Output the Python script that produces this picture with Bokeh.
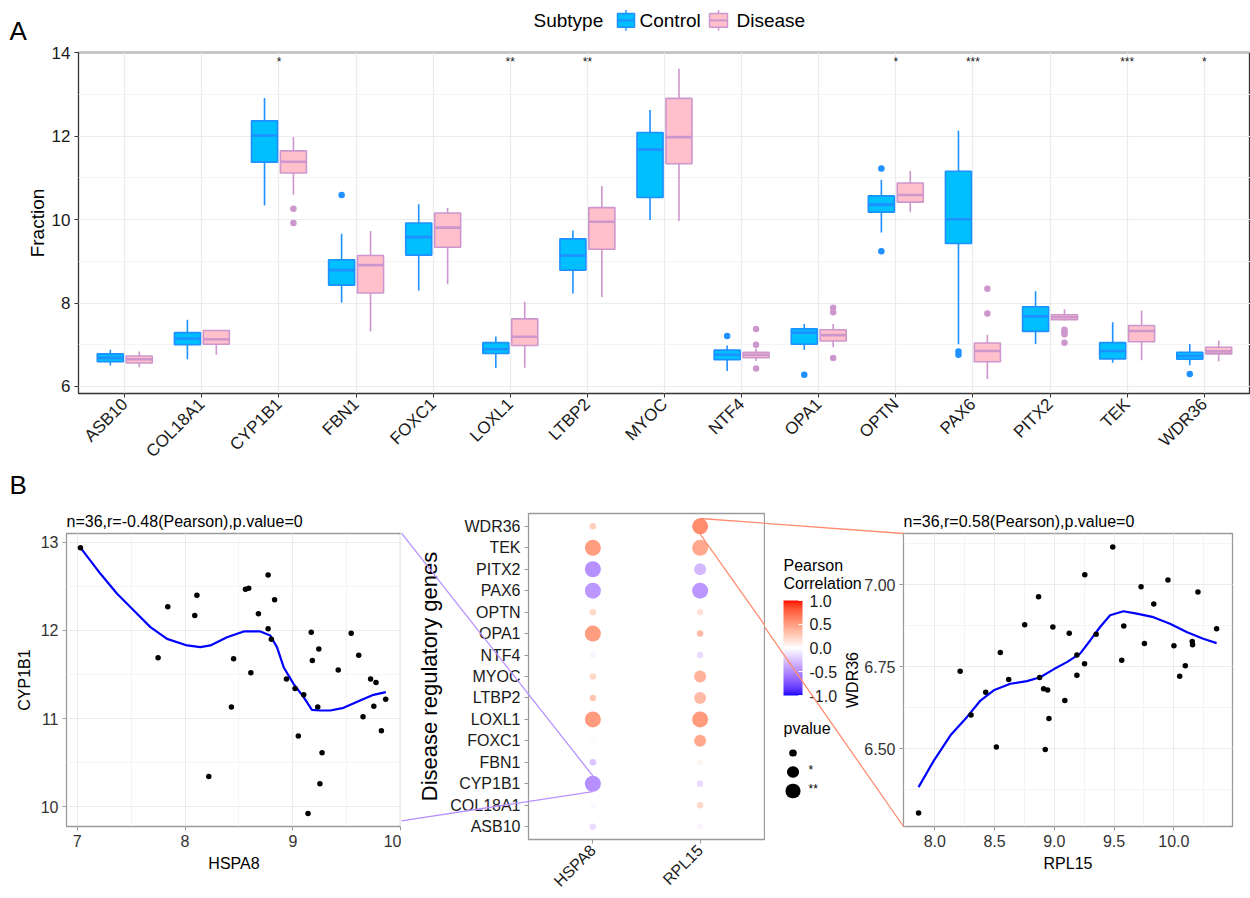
import numpy as np
from bokeh.plotting import figure
from bokeh.layouts import column, row
from bokeh.models import (ColumnDataSource, Range1d, FixedTicker, SingleIntervalTicker,
                          LinearColorMapper, ColorBar, PrintfTickFormatter)
from bokeh.transform import linear_cmap
from bokeh.core.properties import value
from bokeh.embed import file_html
from bokeh.resources import INLINE

FONT = "Liberation Sans"

# ---------------- Panel A data (box plot stats) ----------------
genes = ["ASB10", "COL18A1", "CYP1B1", "FBN1", "FOXC1", "LOXL1", "LTBP2", "MYOC",
         "NTF4", "OPA1", "OPTN", "PAX6", "PITX2", "TEK", "WDR36"]
ctrl_low = [6.50, 6.65, 10.34, 8.01, 8.30, 6.44, 8.23, 9.99, 6.37, 6.88, 9.69, 7.01, 7.02, 6.57, 6.51]
ctrl_q1 = [6.59, 7.00, 11.38, 8.43, 9.15, 6.79, 8.79, 10.53, 6.64, 7.01, 10.18, 9.43, 7.32, 6.66, 6.65]
ctrl_med = [6.685, 7.15, 12.02, 8.79, 9.58, 6.89, 9.14, 11.68, 6.76, 7.29, 10.36, 10.01, 7.68, 6.85, 6.73]
ctrl_q3 = [6.78, 7.29, 12.37, 9.04, 9.92, 7.05, 9.54, 12.09, 6.87, 7.38, 10.57, 11.16, 7.91, 7.05, 6.82]
ctrl_up = [6.88, 7.60, 12.92, 9.66, 10.37, 7.20, 9.74, 12.63, 6.98, 7.50, 10.96, 12.13, 8.28, 7.54, 7.02]
dis_low = [6.46, 6.76, 10.60, 7.32, 8.45, 6.45, 8.14, 9.97, 6.61, 6.94, 10.18, 6.18, 7.58, 6.63, 6.60]
dis_q1 = [6.56, 7.01, 11.12, 8.24, 9.34, 6.98, 9.29, 11.34, 6.69, 7.09, 10.42, 6.59, 7.60, 7.07, 6.78]
dis_med = [6.65, 7.13, 11.39, 8.91, 9.81, 7.19, 9.95, 11.98, 6.76, 7.23, 10.59, 6.85, 7.66, 7.33, 6.84]
dis_q3 = [6.73, 7.34, 11.65, 9.14, 10.16, 7.62, 10.29, 12.91, 6.82, 7.36, 10.88, 7.04, 7.72, 7.46, 6.94]
dis_up = [6.84, 7.36, 11.98, 9.73, 10.28, 8.03, 10.81, 13.62, 6.91, 7.50, 11.17, 7.24, 7.85, 7.82, 7.10]
ctrl_out_gene = ["FBN1", "NTF4", "OPA1", "OPTN", "OPTN", "PAX6", "PAX6", "WDR36"]
ctrl_out_val = [10.59, 7.21, 6.28, 11.23, 9.24, 6.84, 6.76, 6.30]
dis_out_gene = ["CYP1B1", "CYP1B1", "NTF4", "NTF4", "NTF4", "OPA1", "OPA1", "OPA1",
                "PAX6", "PAX6", "PITX2", "PITX2", "PITX2", "PITX2"]
dis_out_val = [10.26, 9.92, 7.38, 7.00, 6.43, 7.89, 7.78, 6.68, 8.34, 7.75, 7.36, 7.30, 7.25, 7.05]
signif = ["", "", "*", "", "", "**", "**", "", "", "", "*", "***", "", "***", "*"]
legend_title = "Subtype"
groups = ["Control", "Disease"]

# ---------------- Panel B data ----------------
hspa8_x = [7.03, 7.75, 7.84, 8.09, 8.11, 8.22, 8.43, 8.45, 8.56, 8.59, 8.61, 8.68, 8.77, 8.77,
           8.80, 8.83, 8.94, 9.02, 9.05, 9.10, 9.14, 9.17, 9.18, 9.23, 9.24, 9.25, 9.27, 9.42,
           9.54, 9.61, 9.65, 9.72, 9.75, 9.77, 9.82, 9.86]
cyp1b1_y = [12.94, 11.69, 12.27, 12.17, 12.40, 10.34, 11.13, 11.68, 12.47, 12.48, 11.52, 12.19,
            12.63, 12.02, 11.90, 12.35, 11.45, 11.34, 10.80, 11.27, 9.92, 11.98, 11.66, 11.13,
            11.79, 10.26, 10.61, 11.55, 11.97, 11.72, 11.02, 11.45, 11.14, 11.41, 10.86, 11.22]
fitL_x = [7.034, 7.216, 7.370, 7.525, 7.679, 7.833, 8.019, 8.142, 8.235, 8.389, 8.543, 8.698,
          8.790, 8.852, 8.914, 9.006, 9.099, 9.176, 9.253, 9.346, 9.469, 9.623, 9.747, 9.861]
fitL_y = [12.936, 12.644, 12.417, 12.227, 12.038, 11.905, 11.830, 11.811, 11.830, 11.924, 11.989,
          11.989, 11.943, 11.811, 11.583, 11.394, 11.242, 11.098, 11.091, 11.091, 11.121, 11.205,
          11.269, 11.299]
titleL = "n=36,r=-0.48(Pearson),p.value=0"

rpl15_x = [7.864, 8.212, 8.303, 8.426, 8.515, 8.548, 8.618, 8.752, 8.868, 8.877, 8.910, 8.924,
           8.944, 8.955, 8.988, 9.088, 9.125, 9.189, 9.189, 9.253, 9.255, 9.350, 9.489, 9.564,
           9.581, 9.726, 9.754, 9.832, 9.951, 10.001, 10.049, 10.096, 10.154, 10.157, 10.202, 10.358]
wdr36_y = [6.304, 6.736, 6.603, 6.672, 6.505, 6.793, 6.711, 6.878, 6.963, 6.717, 6.683, 6.498,
           6.679, 6.592, 6.871, 6.647, 6.852, 6.786, 6.724, 6.759, 7.030, 6.849, 7.115, 6.770,
           6.874, 6.994, 6.821, 6.941, 7.014, 6.814, 6.721, 6.753, 6.827, 6.817, 6.978, 6.866]
fitR_x = [7.864, 7.992, 8.131, 8.270, 8.382, 8.493, 8.632, 8.771, 8.882, 8.994, 9.105, 9.216,
          9.300, 9.383, 9.467, 9.578, 9.690, 9.829, 9.968, 10.107, 10.246, 10.358]
fitR_y = [6.383, 6.464, 6.541, 6.597, 6.647, 6.678, 6.698, 6.706, 6.718, 6.742, 6.764, 6.790,
          6.830, 6.871, 6.907, 6.919, 6.912, 6.901, 6.881, 6.856, 6.835, 6.822]
titleR = "n=36,r=0.58(Pearson),p.value=0"

dot_cols = ["HSPA8", "RPL15"]
hspa8_r = [-0.15, -0.03, -0.48, -0.25, 0.02, 0.52, 0.30, 0.20, -0.05, 0.50, 0.20, -0.45, -0.48, 0.50, 0.25]
hspa8_sig = [0, 0, 2, 0, 0, 2, 0, 0, 0, 2, 0, 2, 2, 2, 0]
rpl15_r = [-0.05, 0.20, -0.15, 0.05, 0.45, 0.52, 0.35, 0.40, -0.15, 0.35, 0.15, -0.45, -0.30, 0.45, 0.58]
rpl15_sig = [0, 0, 0, 0, 1, 2, 1, 1, 0, 0, 0, 2, 1, 2, 2]
pval_labels = ["", "*", "**"]
cbar_title = ["Pearson", "Correlation"]
cbar_ticks = [-1.0, -0.5, 0.0, 0.5, 1.0]

# ---------------- colour helpers (Lab interpolation like scale_colour_gradient2) ----------------
M = np.array([[0.4124564, 0.3575761, 0.1804375],
              [0.2126729, 0.7151522, 0.0721750],
              [0.0193339, 0.1191920, 0.9503041]])
WP = np.array([0.95047, 1.0, 1.08883])


def rgb2lab(rgb):
    c = np.asarray(rgb, float) / 255.0
    lin = np.where(c <= 0.04045, c / 12.92, ((c + 0.055) / 1.055) ** 2.4)
    xyz = M @ lin / WP
    f = np.where(xyz > 0.008856, np.cbrt(xyz), 7.787 * xyz + 16 / 116)
    return np.array([116 * f[1] - 16, 500 * (f[0] - f[1]), 200 * (f[1] - f[2])])


def lab2hex(lab):
    L, a, b = lab
    fy = (L + 16) / 116
    f = np.array([fy + a / 500, fy, fy - b / 200])
    xyz = np.where(f ** 3 > 0.008856, f ** 3, (f - 16 / 116) / 7.787) * WP
    lin = np.clip(np.linalg.solve(M, xyz), 0, 1)
    s = np.where(lin <= 0.0031308, 12.92 * lin, 1.055 * lin ** (1 / 2.4) - 0.055)
    r, g, bb = np.round(np.clip(s, 0, 1) * 255).astype(int)
    return "#%02x%02x%02x" % (r, g, bb)


LAB_W, LAB_B, LAB_R = rgb2lab([255, 255, 255]), rgb2lab([0, 0, 255]), rgb2lab([255, 0, 0])
NPAL = 255
palette = []
for t in np.linspace(-1, 1, NPAL):
    end = LAB_B if t < 0 else LAB_R
    palette.append(lab2hex(LAB_W + abs(t) * (end - LAB_W)))


def corr_color(r):
    return palette[int(round((r + 1) / 2 * (NPAL - 1)))]


def to_data(px, py, frame, xr, yr):
    fl, fr, ft, fb = frame
    x = xr[0] + (px - fl) * (xr[1] - xr[0]) / (fr - fl)
    y = yr[1] - (py - ft) * (yr[1] - yr[0]) / (fb - ft)
    return x, y


def otext(p, pts, texts, frame, xr, yr, size, align="left", color="black"):
    xs, ys = [], []
    for px, py in pts:
        x_, y_ = to_data(px, py, frame, xr, yr)
        xs.append(x_)
        ys.append(y_)
    p.text(x=xs, y=ys, text=texts, text_font=value(FONT), text_font_size=size,
           text_align=align, text_baseline="middle", text_color=color, level="overlay")


def style_axes(p, label_color, tick_color, size):
    for ax in (p.xaxis, p.yaxis):
        ax.axis_line_color = None
        ax.major_tick_line_color = tick_color
        ax.major_tick_out = 4
        ax.major_tick_in = 0
        ax.minor_tick_line_color = None
        ax.major_label_text_font = FONT
        ax.major_label_text_font_size = size
        ax.major_label_text_color = label_color
        ax.axis_label_text_font = FONT
        ax.axis_label_text_font_style = "normal"
        ax.axis_label_text_color = "black"
        ax.major_label_standoff = 4


C_FILL, C_LINE = "#00BFFF", "#1E90FF"
D_FILL, D_LINE = "#FFC0CB", "#CD96CD"

# ================= Panel A =================
A_FRAME = (78, 1250, 52, 397)
A_XR, A_YR = (0.4, 15.6), (5.83, 14.01)
pA = figure(width=1250, height=470, x_range=Range1d(*A_XR), y_range=Range1d(*A_YR),
            output_backend="svg", toolbar_location=None,
            min_border_left=78, min_border_right=0, min_border_top=52, min_border_bottom=73)
pA.outline_line_color = "#333333"
pA.outline_line_width = 1.3
style_axes(pA, "#1a1a1a", "#333333", "17px")
pos = list(range(1, len(genes) + 1))
pA.xaxis.ticker = FixedTicker(ticks=pos)
pA.xaxis.major_label_overrides = {i: g for i, g in zip(pos, genes)}
pA.xaxis.major_label_orientation = np.pi / 4
pA.yaxis.ticker = SingleIntervalTicker(interval=2, num_minor_ticks=2)
pA.yaxis.axis_label = "Fraction"
pA.yaxis.axis_label_text_font_size = "19px"
pA.yaxis.axis_label_standoff = 1
pA.xgrid.grid_line_color = "#EBEBEB"
pA.xgrid.grid_line_width = 1.2
pA.ygrid.grid_line_color = "#EBEBEB"
pA.ygrid.grid_line_width = 1.2
pA.ygrid.minor_grid_line_color = "#F4F4F4"
pA.ygrid.minor_grid_line_width = 1.0

DODGE, BW = 0.1875, 0.3375
gene_idx = {g: i + 1 for i, g in enumerate(genes)}
for sign, lo, q1, md, q3, up, fill, line in [
        (-1, ctrl_low, ctrl_q1, ctrl_med, ctrl_q3, ctrl_up, C_FILL, C_LINE),
        (1, dis_low, dis_q1, dis_med, dis_q3, dis_up, D_FILL, D_LINE)]:
    xs = np.array(pos) + sign * DODGE
    src = ColumnDataSource(dict(x=xs, xl=xs - BW / 2, xr=xs + BW / 2,
                                lo=lo, q1=q1, md=md, q3=q3, up=up))
    pA.segment(x0="x", y0="lo", x1="x", y1="q1", source=src, line_color=line, line_width=1.6)
    pA.segment(x0="x", y0="q3", x1="x", y1="up", source=src, line_color=line, line_width=1.6)
    pA.vbar(x="x", width=BW, bottom="q1", top="q3", source=src,
            fill_color=fill, line_color=line, line_width=1.6)
    pA.segment(x0="xl", y0="md", x1="xr", y1="md", source=src, line_color=line, line_width=2.6)

pA.scatter(x=[gene_idx[g] - DODGE for g in ctrl_out_gene], y=ctrl_out_val, size=6.5,
           fill_color=C_LINE, line_color=None)
pA.scatter(x=[gene_idx[g] + DODGE for g in dis_out_gene], y=dis_out_val, size=6.5,
           fill_color=D_LINE, line_color=None)

STAR_Y = 13.78
pA.text(x=pos, y=[STAR_Y] * len(pos), text=signif, text_align="center", text_baseline="middle",
        text_font=value(FONT), text_font_size="12px", text_color="#1a1a1a")

# legend on top (drawn above the frame)
key_x = [(617, 634), (709, 727)]
for (kx0, kx1), fill, line in zip(key_x, [C_FILL, D_FILL], [C_LINE, D_LINE]):
    l_, t_ = to_data(kx0, 12.5, A_FRAME, A_XR, A_YR)
    r_, b_ = to_data(kx1, 26.5, A_FRAME, A_XR, A_YR)
    cx = (l_ + r_) / 2
    _, wt = to_data(0, 9, A_FRAME, A_XR, A_YR)
    _, wb = to_data(0, 30, A_FRAME, A_XR, A_YR)
    _, mdy = to_data(0, 19.5, A_FRAME, A_XR, A_YR)
    pA.segment(x0=[cx, cx], y0=[wt, b_], x1=[cx, cx], y1=[t_, wb], line_color=line,
               line_width=1.5, level="overlay")
    pA.quad(left=[l_], right=[r_], top=[t_], bottom=[b_], fill_color=fill, line_color=line,
            line_width=1.5, level="overlay")
    pA.segment(x0=[l_], y0=[mdy], x1=[r_], y1=[mdy], line_color=line, line_width=2,
               level="overlay")
otext(pA, [(533, 20), (639, 20), (736, 20)], [legend_title] + groups,
      A_FRAME, A_XR, A_YR, "19px")
otext(pA, [(9, 30)], ["A"], A_FRAME, A_XR, A_YR, "26px")

# ================= Panel B left scatter =================
L_FRAME = (66, 401, 533, 826)
L_XR, L_YR = (6.901, 10.0065), (9.773, 13.102)
pL = figure(width=401, height=428, x_range=Range1d(*L_XR), y_range=Range1d(*L_YR),
            output_backend="svg", toolbar_location=None,
            min_border_left=66, min_border_right=0, min_border_top=63, min_border_bottom=72)
pL.outline_line_color = "#9a9a9a"
pL.outline_line_width = 1.3
style_axes(pL, "#333333", "#9a9a9a", "16px")
pL.xaxis.ticker = SingleIntervalTicker(interval=1, num_minor_ticks=2)
pL.yaxis.ticker = SingleIntervalTicker(interval=1, num_minor_ticks=2)
pL.xaxis.axis_label = "HSPA8"
pL.yaxis.axis_label = "CYP1B1"
pL.xaxis.axis_label_text_font_size = "16px"
pL.yaxis.axis_label_text_font_size = "16px"
for g in (pL.xgrid, pL.ygrid):
    g.grid_line_color = "#EBEBEB"
    g.minor_grid_line_color = "#F4F4F4"
pL.line(fitL_x, fitL_y, line_color="#0000FF", line_width=2.2)
pL.scatter(hspa8_x, cyp1b1_y, size=5.5, fill_color="black", line_color=None)
otext(pL, [(66, 520.5)], [titleL], L_FRAME, L_XR, L_YR, "16px")
otext(pL, [(9, 484)], ["B"], L_FRAME, L_XR, L_YR, "26px")

# ================= Panel B dot plot =================
D_FRAME = (528, 764, 513, 845)
D_XR, D_YR = (0.4, 2.6), (0.4, 15.6)
pD = figure(width=364, height=428, x_range=Range1d(*D_XR), y_range=Range1d(*D_YR),
            output_backend="svg", toolbar_location=None,
            min_border_left=127, min_border_right=1, min_border_top=43, min_border_bottom=53)
pD.outline_line_color = "#9a9a9a"
pD.outline_line_width = 1.3
style_axes(pD, "#1a1a1a", "#9a9a9a", "16px")
pD.xgrid.visible = False
pD.ygrid.visible = False
pD.xaxis.ticker = FixedTicker(ticks=[1, 2])
pD.xaxis.major_label_overrides = {1: dot_cols[0], 2: dot_cols[1]}
pD.xaxis.major_label_orientation = np.pi / 4
pD.yaxis.ticker = FixedTicker(ticks=pos)
pD.yaxis.major_label_overrides = {i: g for i, g in zip(pos, genes)}
pD.yaxis.axis_label = "Disease regulatory genes"
pD.yaxis.axis_label_text_font_size = "22px"

SIZE_MAP = {0: 6.5, 1: 12, 2: 16}
for col, (rs, sg) in enumerate([(hspa8_r, hspa8_sig), (rpl15_r, rpl15_sig)]):
    src = ColumnDataSource(dict(x=[col + 1] * len(genes), y=pos, r=rs,
                                s=[SIZE_MAP[v] for v in sg]))
    pD.scatter("x", "y", size="s", source=src, line_color=None,
               fill_color=linear_cmap("r", palette, -1, 1))

# connectors
D_PXU = (D_FRAME[3] - D_FRAME[2]) / (D_YR[1] - D_YR[0])
i_cyp = genes.index("CYP1B1")
i_wdr = genes.index("WDR36")
r_left = SIZE_MAP[hspa8_sig[i_cyp]] / 2 / D_PXU
r_right = SIZE_MAP[rpl15_sig[i_wdr]] / 2 / D_PXU
col_left = corr_color(hspa8_r[i_cyp])
col_right = corr_color(rpl15_r[i_wdr])
cy_l = pos[i_cyp]
cy_r = pos[i_wdr]
lt = to_data(L_FRAME[1], L_FRAME[2], D_FRAME, D_XR, D_YR)
lb = to_data(L_FRAME[1], L_FRAME[3], D_FRAME, D_XR, D_YR)
pD.segment(x0=[lt[0], lb[0]], y0=[lt[1], lb[1]], x1=[1, 1], y1=[cy_l + r_left, cy_l - r_left],
           line_color=col_left, line_width=1.3, level="overlay")

R_FRAME = (903, 1232, 533, 826)
R_XR, R_YR = (7.738, 10.491), (6.263, 7.156)
rt = to_data(R_FRAME[0], R_FRAME[2], D_FRAME, D_XR, D_YR)
rb = to_data(R_FRAME[0], R_FRAME[3], D_FRAME, D_XR, D_YR)
pD.segment(x0=[2, 2], y0=[cy_r + r_right, cy_r - r_right], x1=[rt[0], rb[0]], y1=[rt[1], rb[1]],
           line_color=col_right, line_width=1.3, level="overlay")

# ================= Panel B right scatter =================
pR = figure(width=485, height=428, x_range=Range1d(*R_XR), y_range=Range1d(*R_YR),
            output_backend="svg", toolbar_location=None,
            min_border_left=138, min_border_right=18, min_border_top=63, min_border_bottom=72)
pR.outline_line_color = "#9a9a9a"
pR.outline_line_width = 1.3
style_axes(pR, "#333333", "#9a9a9a", "16px")
pR.xaxis.ticker = SingleIntervalTicker(interval=0.5, num_minor_ticks=2)
pR.yaxis.ticker = SingleIntervalTicker(interval=0.25, num_minor_ticks=2)
pR.xaxis.formatter = PrintfTickFormatter(format="%.1f")
pR.yaxis.formatter = PrintfTickFormatter(format="%.2f")
pR.xaxis.axis_label = "RPL15"
pR.yaxis.axis_label = "WDR36"
pR.yaxis.axis_label_standoff = 0
pR.xaxis.axis_label_text_font_size = "16px"
pR.yaxis.axis_label_text_font_size = "16px"
for g in (pR.xgrid, pR.ygrid):
    g.grid_line_color = "#EBEBEB"
    g.minor_grid_line_color = "#F4F4F4"
pR.line(fitR_x, fitR_y, line_color="#0000FF", line_width=2.2)
pR.scatter(rpl15_x, wdr36_y, size=5.5, fill_color="black", line_color=None)
otext(pR, [(903, 520.5)], [titleR], R_FRAME, R_XR, R_YR, "16px")

# connector continuation in this canvas
dot_px_x = D_FRAME[0] + (2 - D_XR[0]) * (D_FRAME[1] - D_FRAME[0]) / (D_XR[1] - D_XR[0])
dot_px_y = D_FRAME[3] - (cy_r - D_YR[0]) * D_PXU
rad_px = SIZE_MAP[rpl15_sig[i_wdr]] / 2
s_top = to_data(dot_px_x, dot_px_y - rad_px, R_FRAME, R_XR, R_YR)
s_bot = to_data(dot_px_x, dot_px_y + rad_px, R_FRAME, R_XR, R_YR)
pR.segment(x0=[s_top[0], s_bot[0]], y0=[s_top[1], s_bot[1]],
           x1=[R_XR[0], R_XR[0]], y1=[R_YR[1], R_YR[0]],
           line_color=col_right, line_width=1.3, level="overlay")

# legend (colour bar + p-value sizes) in the left margin of this canvas
otext(pR, [(783, 565), (783, 583)], cbar_title, R_FRAME, R_XR, R_YR, "16px")
cmap = LinearColorMapper(palette=palette, low=-1, high=1)
cbar = ColorBar(color_mapper=cmap, location=(783 - R_FRAME[0], R_FRAME[3] - 695),
                width=19, height=95, padding=0, margin=0, title=None,
                ticker=FixedTicker(ticks=cbar_ticks), formatter=PrintfTickFormatter(format="%.1f"),
                major_label_text_font=FONT, major_label_text_font_size="16px",
                major_label_text_color="#1a1a1a", label_standoff=7,
                major_tick_line_color="white", major_tick_in=4, major_tick_out=0,
                bar_line_color=None, border_line_color=None, background_fill_alpha=0)
pR.add_layout(cbar)
otext(pR, [(783, 728)], ["pvalue"], R_FRAME, R_XR, R_YR, "16px")
leg_py = [752.5, 771.5, 790.5]
leg_sizes = [7, 11.5, 14.5]
# size keys: very short round-capped strokes (joined by a NaN break to an in-frame anchor so
# they are not culled from the off-frame margin)
anchor = to_data(1000, 700, R_FRAME, R_XR, R_YR)
eps = (R_XR[1] - R_XR[0]) / (R_FRAME[1] - R_FRAME[0]) * 0.3
mxs, mys = [], []
for py in leg_py:
    x_, y_ = to_data(792.5, py, R_FRAME, R_XR, R_YR)
    mxs.append([x_ - eps, x_ + eps, np.nan, anchor[0]])
    mys.append([y_, y_, np.nan, anchor[1]])
pR.multi_line(xs=mxs, ys=mys, line_width=leg_sizes, line_color="black", line_cap="round",
              level="overlay")
star_pts = [(808, py - 2) for lab, py in zip(pval_labels, leg_py) if lab]
otext(pR, star_pts, [lab for lab in pval_labels if lab], R_FRAME, R_XR, R_YR, "12px")

for p in (pA, pL, pD, pR):
    p.background_fill_color = "white"
    p.border_fill_color = "white"
    if "frame_align" in p.properties():
        p.frame_align = False

layout = column(pA, row(pL, pD, pR, spacing=0), spacing=0)
open("out.html", "w").write(file_html(layout, INLINE))
